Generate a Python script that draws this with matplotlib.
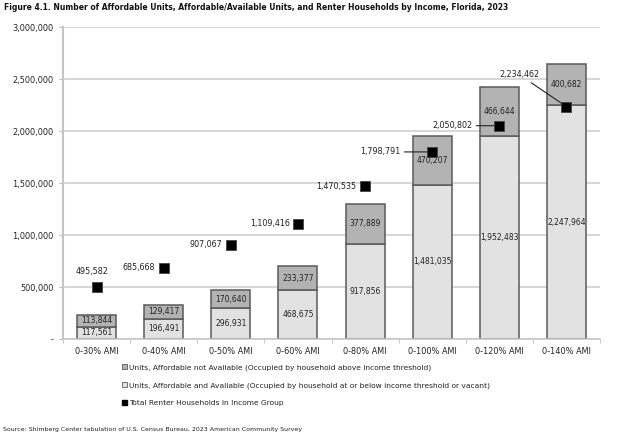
import matplotlib.pyplot as plt
import numpy as np
from matplotlib.patches import Patch

plt.rcParams['font.family'] = ['DejaVu Sans']

## data:
groups = ['0-30% AMI', '0-40% AMI', '0-50% AMI', '0-60% AMI',
          '0-80% AMI', '0-100% AMI', '0-120% AMI', '0-140% AMI']
avail = [117561, 196491, 296931, 468675, 917856, 1481035, 1952483, 2247964]
not_avail = [113844, 129417, 170640, 233377, 377889, 470207, 466644, 400682]
renters = [495582, 685668, 907067, 1109416, 1470535, 1798791, 2050802, 2234462]

# label offsets (points) for the renter markers
lab_off = [(-3, 8), (-6, 0), (-6, 0), (-6, 0), (-6, 0), (-23, 0), (-19.5, 0), (-19.5, 23)]
leader = [False, False, False, False, False, True, True, True]

fig = plt.figure(figsize=(6.24, 4.44), dpi=100)
ax = fig.add_axes([63/624, 105/444, 537/624, 312/444])

x = np.arange(len(groups))
w = 0.58
edge = '#5a5a5a'
ax.bar(x, avail, w, color='#e2e2e2', edgecolor=edge, linewidth=1.1, zorder=2)
ax.bar(x, not_avail, w, bottom=avail, color='#b3b3b3', edgecolor=edge, linewidth=1.1, zorder=2)

fs = 5.5
tc = '#222222'
for i in range(len(x)):
    ax.text(x[i], avail[i]/2, f'{avail[i]:,}', ha='center', va='center', fontsize=fs, color=tc, zorder=3)
    ax.text(x[i], avail[i] + not_avail[i]/2, f'{not_avail[i]:,}', ha='center', va='center',
            fontsize=fs, color=tc, zorder=3)

ax.scatter(x, renters, marker='s', s=55, color='black', edgecolor='#444444', linewidth=0.6, zorder=5)
for i in range(len(x)):
    dx, dy = lab_off[i]
    ha = 'center' if i == 0 else 'right'
    va = 'bottom' if i == 0 else 'center'
    arrow = dict(arrowstyle='-', color=tc, lw=0.8, shrinkA=1, shrinkB=0) if leader[i] else None
    ax.annotate(f'{renters[i]:,}', (x[i], renters[i]), xytext=(dx, dy), textcoords='offset points',
                ha=ha, va=va, fontsize=5.8, color=tc, zorder=4, arrowprops=arrow)

## axes:
ax.set_xlim(-0.5, len(groups) - 0.5)
ax.set_ylim(0, 3000000)
yt = np.arange(0, 3000001, 500000)
ax.set_yticks(yt)
ax.set_yticklabels(['-'] + [f'{v:,}' for v in yt[1:]], fontsize=5.9, color=tc)
ax.yaxis.grid(True, color='#cccccc', linewidth=1.1, zorder=0)
ax.set_axisbelow(True)
ax.set_xticks(x)
ax.set_xticklabels(groups, fontsize=5.9, color=tc)
ax.set_xticks(np.arange(-0.5, len(groups)), minor=True)
ax.tick_params(axis='x', which='major', length=0, pad=6)
ax.tick_params(axis='x', which='minor', length=3, color='#bbbbbb')
ax.tick_params(axis='y', length=3, color='#bbbbbb', pad=4)
for s in ['top', 'right']:
    ax.spines[s].set_visible(False)
ax.spines['left'].set_color('#c4c4c4')
ax.spines['left'].set_linewidth(1.5)
ax.spines['bottom'].set_color('#c4c4c4')
ax.spines['bottom'].set_linewidth(1.1)

## legend:
handles = [Patch(facecolor='#b3b3b3', edgecolor=edge, linewidth=0.6),
           Patch(facecolor='#e2e2e2', edgecolor=edge, linewidth=0.6),
           Patch(facecolor='black', edgecolor='black')]
labels = ['Units, Affordable not Available (Occupied by household above income threshold)',
          'Units, Affordable and Available (Occupied by household at or below income threshold or vacant)',
          'Total Renter Households in Income Group']
fig.legend(handles, labels, loc='upper left', bbox_to_anchor=(122/624, 1 - 364/444), frameon=False,
           fontsize=5.4, handlelength=0.7, handleheight=0.7, handletextpad=0.2, labelspacing=1.5,
           labelcolor=tc, borderaxespad=0, borderpad=0)

fig.text(4/624, 1 - 8/444, 'Figure 4.1. Number of Affordable Units, Affordable/Available Units, and Renter Households by Income, Florida, 2023',
         fontsize=5.5, fontweight='bold', va='center', ha='left', color='#111111')
fig.text(3/624, 1 - 429/444, 'Source: Shimberg Center tabulation of U.S. Census Bureau, 2023 American Community Survey',
         fontsize=4.5, va='center', ha='left', color=tc)

plt.savefig('out.png', dpi=100)
